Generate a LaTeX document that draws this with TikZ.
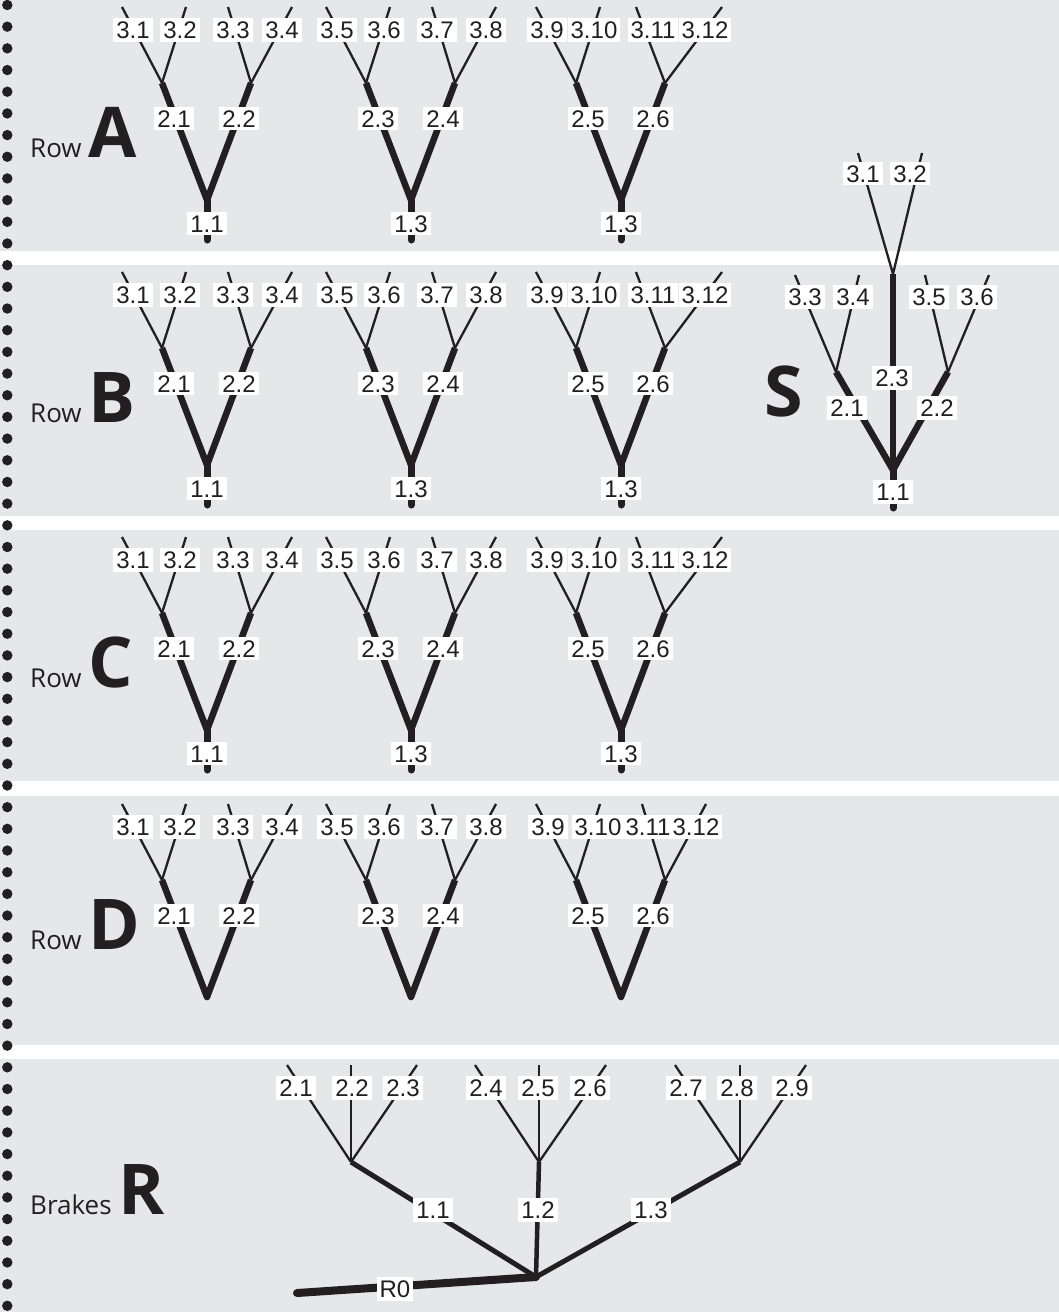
\documentclass[tikz,border=0pt]{standalone}
\usepackage{fontspec}
\setmainfont{Open Sans}
\newfontfamily\lblfont{Liberation Sans}
\definecolor{ink}{HTML}{231F20}
\definecolor{panelgray}{HTML}{E6E7E8}
\tikzset{
  lbl/.style={fill=white, inner xsep=3pt, inner ysep=3.2pt, text=ink,
    font=\lblfont\fontsize{24}{24}\selectfont, text height=17.2pt, text depth=0pt},
  lvthree/.style={draw=ink, line width=2.3pt},
  lvtwo/.style={draw=ink, line width=6.5pt, line join=round},
  lvone/.style={draw=ink, line width=7pt, line cap=round},
  rowtitle/.style={anchor=base west, inner sep=0pt, text=ink, font=\fontsize{26}{26}\selectfont},
  bigletter/.style={anchor=base west, inner sep=0pt, text=ink, font=\fontsize{70}{70}\selectfont\bfseries},
  panelbox/.style={fill=panelgray, draw=none}
}
\def\lbA{-74}\def\lbB{-27}\def\lbC{26}\def\lbD{75}
\def\tpC{-23}\def\tpD{41}
% #1 root x, #2 panel top, #3-#6 level-3 labels, #7-#8 level-2 labels, #9 level-1 label
\newcommand\vtree[9]{%
  \coordinate (v#1-#2-r) at ({#1},{#2+200});
  \coordinate (v#1-#2-s) at ({#1},{#2+240});
  \coordinate (v#1-#2-bl) at ({#1-45},{#2+83});
  \coordinate (v#1-#2-br) at ({#1+44},{#2+83});
  \coordinate (v#1-#2-t1) at ({#1-85},{#2+7});
  \coordinate (v#1-#2-t2) at ({#1-21},{#2+7});
  \coordinate (v#1-#2-t3) at ({#1+44+\tpC},{#2+7});
  \coordinate (v#1-#2-t4) at ({#1+44+\tpD},{#2+7});
  \draw[lvthree] (v#1-#2-bl) -- (v#1-#2-t1);
  \draw[lvthree] (v#1-#2-bl) -- (v#1-#2-t2);
  \draw[lvthree] (v#1-#2-br) -- (v#1-#2-t3);
  \draw[lvthree] (v#1-#2-br) -- (v#1-#2-t4);
  \draw[lvtwo] (v#1-#2-bl) -- (v#1-#2-r) -- (v#1-#2-br);
  \def\tmpstem{#9}%
  \ifx\tmpstem\empty\else
    \draw[lvone] (v#1-#2-s) -- (v#1-#2-r);
    \node[lbl] (v#1-#2-l1) at ({#1},{#2+223.5}) {#9};
  \fi
  \node[lbl] (v#1-#2-l3a) at ({#1+\lbA},{#2+30}) {#3};
  \node[lbl] (v#1-#2-l3b) at ({#1+\lbB},{#2+30}) {#4};
  \node[lbl] (v#1-#2-l3c) at ({#1+\lbC},{#2+30}) {#5};
  \node[lbl] (v#1-#2-l3d) at ({#1+\lbD},{#2+30}) {#6};
  \node[lbl] (v#1-#2-l2a) at ({#1-33},{#2+118.5}) {#7};
  \node[lbl] (v#1-#2-l2b) at ({#1+32},{#2+118.5}) {#8};
}
\begin{document}
\begin{tikzpicture}[x=1pt,y=-1pt]
\useasboundingbox (0,0) rectangle (1059,1312);
\fill[white] (0,0) rectangle (1059,1312);
% panels
\path[panelbox] (0,0) rectangle (1059,251);
\path[panelbox] (0,265) rectangle (1059,516);
\path[panelbox] (0,530) rectangle (1059,781);
\path[panelbox] (0,796) rectangle (1059,1045);
\path[panelbox] (0,1059) rectangle (1059,1312);
% binding dots
\foreach \i in {0,...,60} \fill[ink] (7.3,{5+21.68*\i}) circle (5.2);
% titles
\node[rowtitle] (tA) at (30,157) {Row \tikz[baseline]\node[bigletter]{A};};
\node[rowtitle] (tB) at (30,422) {Row \tikz[baseline]\node[bigletter]{B};};
\node[rowtitle] (tC) at (30,687) {Row \tikz[baseline]\node[bigletter]{C};};
\node[rowtitle] (tD) at (30,949) {Row \tikz[baseline]\node[bigletter]{D};};
\node[rowtitle] (tR) at (30,1214) {Brakes \tikz[baseline]\node[bigletter]{R};};
\node[bigletter] (tS) at (764,416) {S};
% rows A, B, C
\foreach \T in {0,265,530}{
  \def\lbC{26}\def\lbD{75}\def\tpC{-23}\def\tpD{41}
  \vtree{207}{\T}{3.1}{3.2}{3.3}{3.4}{2.1}{2.2}{1.1}
  \vtree{411}{\T}{3.5}{3.6}{3.7}{3.8}{2.3}{2.4}{1.3}
  \def\lbC{32}\def\lbD{84}\def\tpC{-29}\def\tpD{57}
  \vtree{621}{\T}{3.9}{3.10}{3.11}{3.12}{2.5}{2.6}{1.3}
}
% row D
\def\lbC{26}\def\lbD{75}\def\tpC{-23}\def\tpD{41}
\vtree{207}{797}{3.1}{3.2}{3.3}{3.4}{2.1}{2.2}{}
\vtree{411}{797}{3.5}{3.6}{3.7}{3.8}{2.3}{2.4}{}
\def\lbA{-73}\def\lbB{-23}\def\lbC{27}\def\lbD{75}
\vtree{621}{797}{3.9}{3.10}{3.11}{3.12}{2.5}{2.6}{}
% S tree
\coordinate (sEnd) at (893,508);
\coordinate (sRoot) at (893,470);
\coordinate (sTop) at (893,274);
\coordinate (sL) at (836,372);
\coordinate (sR) at (948,372);
\coordinate (sT1) at (858,153);
\coordinate (sT2) at (922,153);
\coordinate (sT3) at (795,275);
\coordinate (sT4) at (859,275);
\coordinate (sT5) at (925,275);
\coordinate (sT6) at (989,275);
\draw[lvthree] (sTop) -- (sT1);
\draw[lvthree] (sTop) -- (sT2);
\draw[lvthree] (sL) -- (sT3);
\draw[lvthree] (sL) -- (sT4);
\draw[lvthree] (sR) -- (sT5);
\draw[lvthree] (sR) -- (sT6);
\draw[lvtwo] (sL) -- (sRoot) -- (sR);
\draw[lvtwo] (sRoot) -- (sTop);
\draw[lvone] (sEnd) -- (sRoot);
\node[lbl] (sl11) at (893,492) {1.1};
\node[lbl] (sl23) at (892,378) {2.3};
\node[lbl] (sl21) at (847,408) {2.1};
\node[lbl] (sl22) at (937,408) {2.2};
\node[lbl] (sl31) at (863,173.5) {3.1};
\node[lbl] (sl32) at (910,173.5) {3.2};
\node[lbl] (sl33) at (805,297) {3.3};
\node[lbl] (sl34) at (853,297) {3.4};
\node[lbl] (sl35) at (929,297) {3.5};
\node[lbl] (sl36) at (977,297) {3.6};
% R tree
\coordinate (rLeft) at (297,1293);
\coordinate (rHub) at (536,1277);
\coordinate (rJ1) at (351,1162);
\coordinate (rJ2) at (539,1162);
\coordinate (rJ3) at (740,1162);
\coordinate (rT1) at (287,1065);
\coordinate (rT2) at (351,1065);
\coordinate (rT3) at (417,1065);
\coordinate (rT4) at (475,1065);
\coordinate (rT5) at (539,1065);
\coordinate (rT6) at (606,1065);
\coordinate (rT7) at (675,1065);
\coordinate (rT8) at (740,1065);
\coordinate (rT9) at (806,1065);
\foreach \j/\a/\b/\c in {rJ1/rT1/rT2/rT3, rJ2/rT4/rT5/rT6, rJ3/rT7/rT8/rT9}{
  \draw[lvthree] (\j) -- (\a);
  \draw[lvthree] (\j) -- (\b);
  \draw[lvthree] (\j) -- (\c);
}
\draw[draw=ink, line width=5pt] (rHub) -- (rJ1);
\draw[draw=ink, line width=4.5pt] (rHub) -- (rJ2);
\draw[draw=ink, line width=5pt] (rHub) -- (rJ3);
\draw[draw=ink, line width=8pt, line cap=round] (rLeft) -- (rHub);
\node[lbl] (rl0) at (395,1289) {R0};
\node[lbl] (rl11) at (433,1210) {1.1};
\node[lbl] (rl12) at (538,1210) {1.2};
\node[lbl] (rl13) at (651,1210) {1.3};
\node[lbl] (rl21) at (296,1088) {2.1};
\node[lbl] (rl22) at (352,1088) {2.2};
\node[lbl] (rl23) at (403,1088) {2.3};
\node[lbl] (rl24) at (486,1088) {2.4};
\node[lbl] (rl25) at (538,1088) {2.5};
\node[lbl] (rl26) at (590,1088) {2.6};
\node[lbl] (rl27) at (686,1088) {2.7};
\node[lbl] (rl28) at (737,1088) {2.8};
\node[lbl] (rl29) at (792,1088) {2.9};
\end{tikzpicture}
\end{document}
